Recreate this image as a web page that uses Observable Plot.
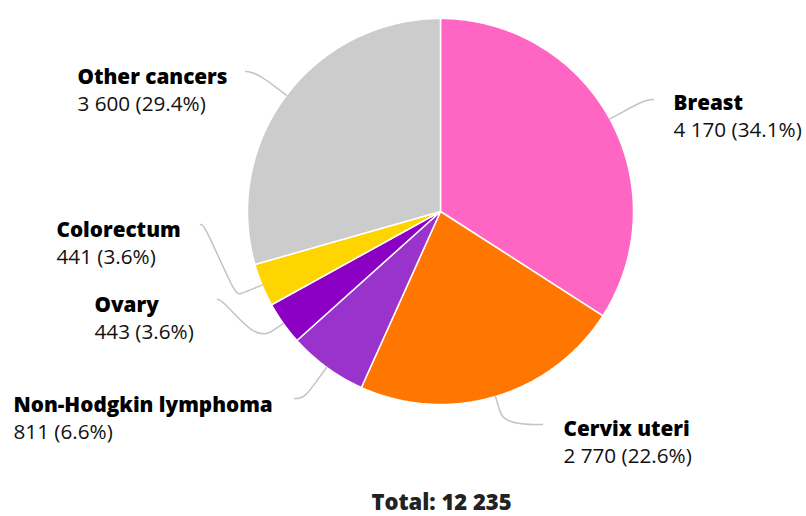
<!DOCTYPE html>
<html><head><meta charset="utf-8">
<script src="https://cdn.jsdelivr.net/npm/d3@7"></script>
<script src="https://cdn.jsdelivr.net/npm/@observablehq/plot@0.6"></script>
<style>body{margin:0;background:#fff;font-family:"Open Sans",sans-serif}</style>
</head><body><div id="chart"></div>
<script>
// ---- data ----
const categories = ["Breast", "Cervix uteri", "Non-Hodgkin lymphoma", "Ovary", "Colorectum", "Other cancers"];
const values = [4170, 2770, 811, 443, 441, 3600];
const colors = ["#ff66c4", "#ff7700", "#9933cc", "#8c00c4", "#ffd500", "#cccccc"];
const totalTitle = "Total";

// ---- layout (pixels) ----
const W = 806, H = 516, CX = 440, CY = 211, R = 193;
const FS = 20.7, LINE = 27;
// text left x, name baseline y, connector end (ex, ey), radial length d, horizontal leave k, approach h
const labelLayout = [
  {tx: 673, ty: 109, ex: 653, ey: 99,  d: 34, k: 0,  h: 4},
  {tx: 563, ty: 435, ex: 542, ey: 424, d: 24, k: 0,  h: 22},
  {tx: 13,  ty: 411, ex: 294, ey: 398, d: 36, k: 0,  h: 4},
  {tx: 94,  ty: 311, ex: 217, ey: 299, d: 19, k: 15, h: 4},
  {tx: 56,  ty: 236, ex: 200, ey: 224, d: 24, k: 5,  h: 4},
  {tx: 77,  ty: 83,  ex: 245, ey: 71,  d: 32, k: 0,  h: 4}
];

const total = d3.sum(values);
const fmt = d3.formatLocale({decimal: ".", thousands: " ", grouping: [3], currency: ["", ""]}).format(",d");
const arcs = d3.pie().sort(null).value(d => d)(values);
const pt = (a, r) => ({x: CX + r * Math.sin(a), y: CY - r * Math.cos(a)});

// wedge polygons
const wedges = arcs.map((a, i) => {
  const pts = [{x: CX, y: CY}];
  const n = Math.max(2, Math.ceil((a.endAngle - a.startAngle) / 0.01));
  for (let j = 0; j <= n; j++) pts.push(pt(a.startAngle + (a.endAngle - a.startAngle) * j / n, R));
  pts.push({x: CX, y: CY});
  return pts;
});

// connectors
const connectors = arcs.map((a, i) => {
  const L = labelLayout[i];
  const m = (a.startAngle + a.endAngle) / 2;
  const S = pt(m, R), M = pt(m, R + L.d / 2), B = pt(m, R + L.d);
  const sign = L.ex > CX ? -1 : 1; // direction toward the pie
  const pts = [S, M, B];
  if (L.k > 0) pts.push({x: B.x - sign * L.k, y: B.y});
  pts.push({x: L.ex + sign * L.h, y: L.ey});
  pts.push({x: L.ex, y: L.ey});
  return pts;
});

const labels = categories.map((c, i) => ({
  name: c,
  value: `${fmt(values[i])} (${(values[i] / total * 100).toFixed(1)}%)`,
  x: labelLayout[i].tx, y: labelLayout[i].ty
}));

const chart = Plot.plot({
  width: W, height: H, margin: 0,
  x: {domain: [0, W], range: [0, W], axis: null},
  y: {domain: [0, H], range: [0, H], axis: null},
  style: {fontFamily: "'Open Sans', sans-serif", background: "#fff"},
  marks: [
    ...wedges.map((w, i) => Plot.line(w, {x: "x", y: "y", fill: colors[i], stroke: "#ffffff", strokeWidth: 1.5, strokeLinejoin: "round", curve: "linear"})),
    ...connectors.map(c => Plot.line(c, {x: "x", y: "y", stroke: "#c4c4c4", strokeWidth: 1.5, curve: "basis"})),
    Plot.text(labels, {x: "x", y: "y", text: "name", textAnchor: "start", lineAnchor: "bottom", fontWeight: 800, fontSize: FS, fill: "#000"}),
    Plot.text(labels, {x: "x", y: d => d.y + LINE, text: "value", textAnchor: "start", lineAnchor: "bottom", fontSize: FS, fill: "#111"}),
    Plot.text([`${totalTitle}: ${fmt(total)}`], {x: () => CX + 1, y: () => 509, text: d => d, textAnchor: "middle", lineAnchor: "bottom", fontWeight: 800, fontSize: 22, fill: "#222"})
  ]
});
document.getElementById("chart").append(chart);
</script>
</body></html>
